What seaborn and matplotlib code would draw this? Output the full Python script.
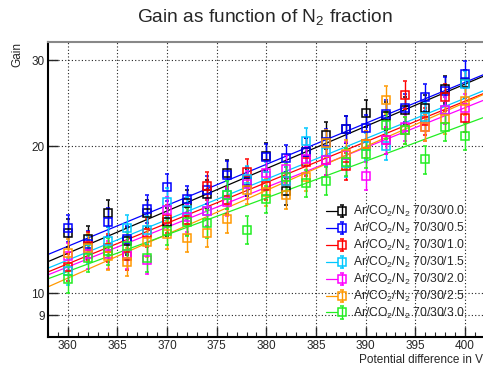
import numpy as np
import pandas as pd
import matplotlib
matplotlib.use("Agg")
import matplotlib.pyplot as plt
import seaborn as sns
from matplotlib.ticker import FixedLocator, FixedFormatter, MultipleLocator, NullLocator
from matplotlib.legend_handler import HandlerTuple

# Measured gain vs. potential difference for Ar/CO2 70/30 with N2 admixture
voltage = [360, 362, 364, 366, 368, 370, 372, 374, 376, 378, 380,
           382, 384, 386, 388, 390, 392, 394, 396, 398, 400]

gain_n2_00 = [13.3, 12.9, 14.6, 12.8, 14.6, 14.0, 15.3, 16.0, 17.6, 16.9, 19.1,
              16.2, 19.5, 21.1, 21.7, 23.4, 23.1, 23.7, 23.9, 26.2, 26.9]
gain_n2_05 = [13.6, 12.6, 14.0, 12.9, 14.9, 16.5, 15.6, 16.3, 17.5, 17.0, 19.0,
              18.9, 19.5, 20.4, 21.7, 21.8, 23.3, 24.0, 25.2, 26.0, 28.1]
gain_n2_10 = [11.3, 12.5, 12.4, 11.9, 13.3, 14.2, 14.1, 16.6, 15.5, 17.7, 16.6,
              17.0, 18.6, 18.7, 18.2, 20.2, 20.6, 25.5, 22.5, 25.2, 22.9]
gain_n2_15 = [11.1, 12.3, 12.8, 13.6, 13.5, 15.4, 14.8, 14.7, 15.9, 17.1, 17.4,
              17.0, 20.5, 19.5, 18.5, 20.0, 20.0, 21.6, 23.0, 23.7, 26.8]
gain_n2_20 = [11.9, 12.0, 12.0, 12.0, 11.7, 14.8, 14.3, 14.7, 15.4, 16.7, 17.6,
              18.0, 18.8, 18.7, 19.2, 17.4, 20.6, 21.9, 21.9, 23.7, 24.0]
gain_n2_25 = [12.1, 12.4, 11.9, 11.6, 12.7, 13.2, 13.0, 13.3, 14.2, 16.3, 16.1,
              15.9, 17.3, 20.3, 19.3, 20.2, 24.9, 21.6, 21.9, 22.7, 24.8]
gain_n2_30 = [10.7, 11.8, 12.2, 12.5, 11.8, 13.4, 14.0, 13.9, 15.9, 13.5, 15.6,
              17.3, 16.8, 17.0, 18.6, 19.3, 22.1, 21.6, 18.8, 21.9, 21.0]

# relative uncertainty on each gain measurement
rel_err = [0.065, 0.065, 0.065, 0.065, 0.065, 0.065, 0.065]

# exponential fit results: gain at the ends of the voltage range
fit_voltage = [358, 402]
fit_gain_lo = [11.6, 12.0, 11.05, 11.25, 10.9, 10.3, 10.7]
fit_gain_hi = [27.9, 28.1, 25.7, 26.05, 24.9, 25.6, 22.95]

labels = [r"Ar/CO$_2$/N$_2$ 70/30/0.0", r"Ar/CO$_2$/N$_2$ 70/30/0.5",
          r"Ar/CO$_2$/N$_2$ 70/30/1.0", r"Ar/CO$_2$/N$_2$ 70/30/1.5",
          r"Ar/CO$_2$/N$_2$ 70/30/2.0", r"Ar/CO$_2$/N$_2$ 70/30/2.5",
          r"Ar/CO$_2$/N$_2$ 70/30/3.0"]
colors = ["#000000", "#0000ff", "#ff0000", "#00c8ff", "#ff00ff", "#ff9900", "#22ee22"]
series = [gain_n2_00, gain_n2_05, gain_n2_10, gain_n2_15, gain_n2_20, gain_n2_25, gain_n2_30]

sns.set_style("ticks")
plt.rcParams["font.family"] = ["Liberation Sans", "DejaVu Sans"]
plt.rcParams["mathtext.default"] = "regular"

fig = plt.figure(figsize=(4.83, 3.71), dpi=100)
ax = fig.add_axes([48 / 483, 34 / 371, 436 / 483, 295 / 371])
ax.set_yscale("log")

handles = []
for lab, col, g, re_, lo, hi in zip(labels, colors, series, rel_err, fit_gain_lo, fit_gain_hi):
    df = pd.DataFrame({"V": voltage, "gain": g})
    err = np.asarray(g) * re_
    eb = ax.errorbar(df["V"], df["gain"], yerr=err, fmt="s", ms=6, mfc="none",
                     mec=col, mew=1.1, ecolor=col, elinewidth=1.0, capsize=1.5,
                     capthick=1.0, zorder=3)
    fit_df = pd.DataFrame({"V": fit_voltage, "gain": [lo, hi]})
    sns.lineplot(data=fit_df, x="V", y="gain", ax=ax, color=col, lw=0.9,
                 legend=False, zorder=2)
    line = ax.lines[-1]
    handles.append((line, eb))

ax.set_xlim(358.0, 401.92)
ax.set_ylim(8.13, 32.7)

ax.xaxis.set_major_locator(MultipleLocator(5))
ax.xaxis.set_minor_locator(MultipleLocator(1))
ax.yaxis.set_major_locator(FixedLocator([9, 10, 20, 30]))
ax.yaxis.set_major_formatter(FixedFormatter(["9", "10", "20", "30"]))
ax.yaxis.set_minor_locator(NullLocator())
ax.yaxis.set_minor_formatter(FixedFormatter([]))

ax.tick_params(axis="both", which="major", direction="in", length=7, width=1,
               labelsize=8.5, pad=2.5, right=False, top=False)
ax.tick_params(axis="x", which="minor", direction="in", length=3.5, width=0.8, top=False)

ax.grid(True, which="major", color="#222222", linestyle=(0, (1, 2)), lw=0.8)
ax.set_axisbelow(True)

for side in ["left", "bottom"]:
    ax.spines[side].set_color("black")
    ax.spines[side].set_linewidth(1.5)
ax.spines["top"].set_color("#888888")
ax.spines["top"].set_linewidth(1.5)
ax.spines["right"].set_visible(False)

ax.set_xlabel("")
ax.set_ylabel("")
fig.text(483 / 483, 1 - 360 / 371, "Potential difference in V", ha="right",
         va="center", fontsize=8.5)
fig.text(17 / 483, 1 - 42 / 371, "Gain", ha="center", va="top", rotation=90,
         fontsize=8.5)
fig.text(265 / 483, 1 - 17 / 371, r"Gain as function of N$_2$ fraction",
         ha="center", va="center", fontsize=13.8)

ax.legend(handles=handles, labels=labels,
          handler_map={tuple: HandlerTuple(ndivide=None)},
          loc="center left", bbox_to_anchor=(326 / 483, 1 - 262.5 / 371),
          bbox_transform=fig.transFigure, frameon=False, fontsize=8.7,
          handlelength=1.75, handletextpad=0.5, labelspacing=0.15,
          borderpad=0, borderaxespad=0)

fig.savefig("out.png", dpi=100)
